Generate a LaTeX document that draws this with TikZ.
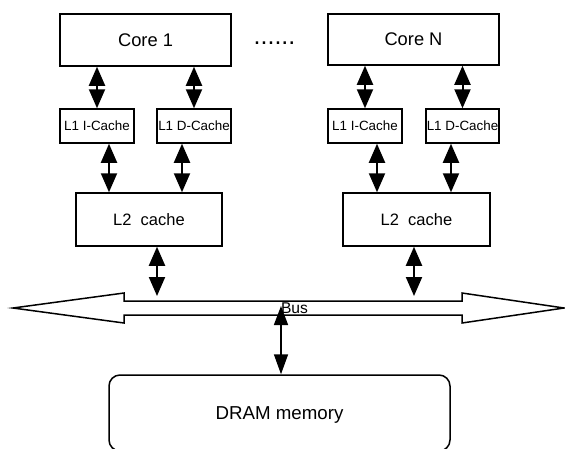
\documentclass[tikz,border=0pt]{standalone}
\usepackage{fontspec}
\setmainfont{Liberation Sans}
\usetikzlibrary{arrows.meta}

\tikzset{
  pbox/.style n args={2}{draw, line width=1.5pt, minimum width=#1, minimum height=#2,
    inner sep=0pt, fill=white},
  fsz/.style={font=\fontsize{#1}{#1}\selectfont},
  dblarrow/.style={line width=2pt,
    {Triangle[length=19pt,width=16pt]}-{Triangle[length=19pt,width=16pt]}},
  memarrow/.style={line width=1.6pt,
    {Triangle[length=19pt,width=14pt]}-{Triangle[length=20pt,width=14pt]}},
}

\begin{document}
\begin{tikzpicture}[x=1pt,y=-1pt]
  \useasboundingbox (0,0) rectangle (565,448);

  % cores
  \node[pbox={171}{52}, fsz=18.3] (core1) at (145.5,40) {Core 1};
  \node[pbox={171}{51}, fsz=18.3] (coreN) at (413.5,39.5) {Core N};
  \node[fsz=25, inner sep=0pt] (dots) at (274.5,43) {......};

  % first-level caches
  \node[pbox={74}{34}, fsz=13.4] (l1i1) at (97,126) {L1 I-Cache};
  \node[pbox={74}{34}, fsz=13.4] (l1d1) at (194,126) {L1 D-Cache};
  \node[pbox={74}{34}, fsz=13.4] (l1iN) at (365,126) {L1 I-Cache};
  \node[pbox={73}{34}, fsz=13.4] (l1dN) at (462.5,126) {L1 D-Cache};

  % second-level caches
  \node[pbox={146}{53}, fsz=16.5] (l2a) at (149,219.5) {L2\ \ cache};
  \node[pbox={147}{53}, fsz=16.5] (l2b) at (416.5,219.5) {L2\ \ cache};

  % main memory
  \node[pbox={341}{76}, rounded corners=11pt, fsz=18.7, text depth=0pt] (dram)
    at (279.5,413) {DRAM memory};

  % the shared bus
  \coordinate (busL) at (13,308);
  \coordinate (busR) at (564,308);
  \draw[line width=1.5pt, line join=miter] (busL) -- (124,293) -- (124,301) -- (462,301)
    -- (462,293) -- (busR) -- (462,323) -- (462,315) -- (124,315) -- (124,323) -- cycle;
  \coordinate (busA) at (157,296);
  \coordinate (busB) at (414,296);
  \coordinate (busM) at (281,306);

  % core <-> L1
  \draw[dblarrow] (core1.south -| l1i1) -- (l1i1.north);
  \draw[dblarrow] (core1.south -| l1d1) -- (l1d1.north);
  \draw[dblarrow] (coreN.south -| l1iN) -- (l1iN.north);
  \draw[dblarrow] (coreN.south -| l1dN) -- (l1dN.north);

  % L1 <-> L2
  \draw[dblarrow] ([xshift=12pt]l1i1.south) -- ([xshift=12pt]l1i1.south |- l2a.north);
  \draw[dblarrow] ([xshift=-12pt]l1d1.south) -- ([xshift=-12pt]l1d1.south |- l2a.north);
  \draw[dblarrow] ([xshift=12pt]l1iN.south) -- ([xshift=12pt]l1iN.south |- l2b.north);
  \draw[dblarrow] ([xshift=-11.5pt]l1dN.south) -- ([xshift=-11.5pt]l1dN.south |- l2b.north);

  % L2 <-> bus
  \draw[dblarrow] (l2a.south -| busA) -- (busA);
  \draw[dblarrow] (l2b.south -| busB) -- (busB);

  % bus <-> memory
  \draw[memarrow] (busM) -- (busM |- dram.north);
  \node[fsz=15.6, inner sep=0pt] (buslabel) at (294.5,308) {Bus};
\end{tikzpicture}
\end{document}
